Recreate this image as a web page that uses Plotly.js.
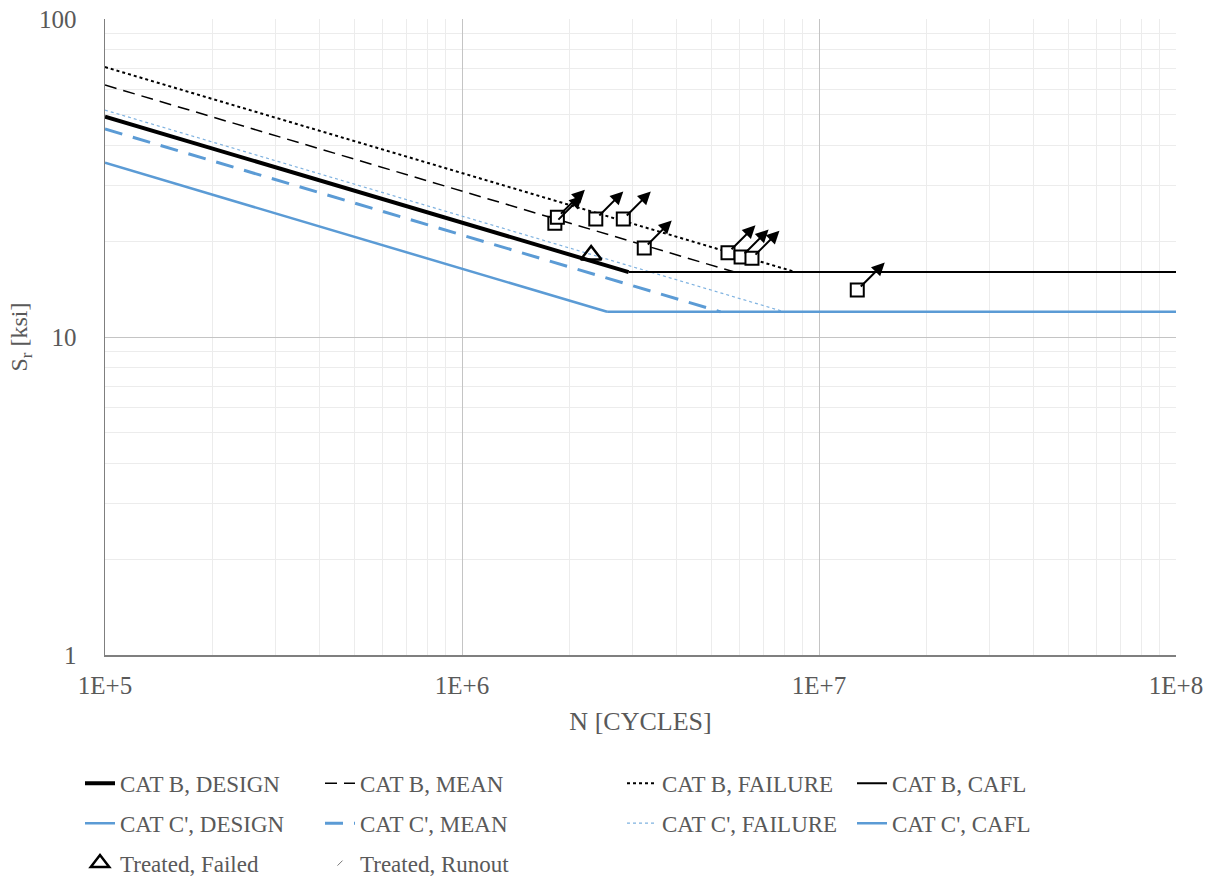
<!DOCTYPE html>
<html>
<head>
<meta charset="utf-8">
<script src="https://cdn.plot.ly/plotly-3.0.1.min.js"></script>
<style>html,body{margin:0;padding:0;background:#fff;}#chart{width:1217px;height:886px;}</style>
</head>
<body>
<div id="chart"></div>
<script>
// S-N curves (N in cycles, S in ksi)
const nDesignB = [1e5, 2.93e6];  const sDesignB = [49.3, 16];
const nMeanB   = [1e5, 5.8e6];   const sMeanB   = [62.0, 16];
const nFailB   = [1e5, 8.6e6];   const sFailB   = [70.6, 16];
const nCaflB   = [2.93e6, 1e8];  const sCaflB   = [16, 16];
const nDesignC = [1e5, 2.55e6];  const sDesignC = [35.3, 12];
const nMeanC   = [1e5, 5.3e6];   const sMeanC   = [45.1, 12];
const nFailC   = [1e5, 8.0e6];   const sFailC   = [51.7, 12];
const nCaflC   = [2.55e6, 1e8];  const sCaflC   = [12, 12];
// Test data
const failedN = [2.30e6];
const failedS = [18.1];
const runoutN = [1.82e6, 1.85e6, 2.37e6, 2.83e6, 3.24e6, 5.56e6, 6.05e6, 6.49e6, 1.28e7];
const runoutS = [22.8, 23.8, 23.5, 23.5, 19.05, 18.4, 17.85, 17.7, 14.05];
// Axis ticks
const xTickVals = [1e5, 1e6, 1e7, 1e8];
const xTickText = ['1E+5', '1E+6', '1E+7', '1E+8'];
const yTickVals = [1, 10, 100];
const yTickText = ['1', '10', '100'];

const BLUE = '#5b9bd5';
const FONT = 'Liberation Serif, Times New Roman, serif';
const GREY = '#595959';

function line(name, x, y, color, width, dash, legend, group) {
  return {x, y, name, type: 'scatter', mode: 'lines',
    line: {color, width, dash}, legend, legendgroup: group};
}

const traces = [
  line('CAT B, DESIGN', nDesignB, sDesignB, '#000', 4, 'solid', 'legend', 'a1'),
  line("CAT C', DESIGN", nDesignC, sDesignC, BLUE, 2.5, 'solid', 'legend', 'a2'),
  line('CAT B, MEAN', nMeanB, sMeanB, '#000', 1.5, '12px,7px', 'legend2', 'b1'),
  line("CAT C', MEAN", nMeanC, sMeanC, BLUE, 3, '18px,11px', 'legend2', 'b2'),
  line('CAT B, FAILURE', nFailB, sFailB, '#000', 2, 'dot', 'legend3', 'c1'),
  line("CAT C', FAILURE", nFailC, sFailC, '#7fb2e0', 1.2, 'dot', 'legend3', 'c2'),
  line('CAT B, CAFL', nCaflB, sCaflB, '#000', 2, 'solid', 'legend4', 'd1'),
  line("CAT C', CAFL", nCaflC, sCaflC, BLUE, 2.5, 'solid', 'legend4', 'd2'),
  {x: failedN, y: failedS, name: 'Treated, Failed', type: 'scatter', mode: 'markers',
   marker: {symbol: 'triangle-up-open', size: 18, color: '#000', line: {width: 2.5, color: '#000'}},
   legend: 'legend', legendgroup: 'a3'},
  {x: runoutN, y: runoutS, name: 'Treated, Runout', type: 'scatter', mode: 'markers',
   marker: {symbol: 'line-ne', size: 5, color: '#777', line: {width: 1, color: '#777'}},
   legend: 'legend2', legendgroup: 'b3'},
  {x: runoutN, y: runoutS, name: 'runout squares', type: 'scatter', mode: 'markers', showlegend: false,
   marker: {symbol: 'square', size: 13, color: '#fff', line: {width: 2, color: '#000'}}}
];

const annotations = runoutN.map((n, i) => ({
  x: Math.log10(n), y: Math.log10(runoutS[i]), xref: 'x', yref: 'y',
  text: '', showarrow: true, ax: 29, ay: -29, axref: 'pixel', ayref: 'pixel',
  arrowside: 'start', startarrowhead: 2, startarrowsize: 1.3, arrowwidth: 2,
  arrowcolor: '#000', standoff: 5
}));

function legendAt(xpx) {
  return {x: (xpx - 105) / 1071, xanchor: 'left', y: -0.168, yanchor: 'top',
    orientation: 'v', traceorder: 'grouped', tracegroupgap: 7,
    font: {family: FONT, size: 23, color: GREY}, bgcolor: 'rgba(0,0,0,0)'};
}

const layout = {
  width: 1217, height: 886,
  margin: {l: 105, r: 41, t: 19, b: 231, autoexpand: false},
  paper_bgcolor: '#fff', plot_bgcolor: '#fff',
  showlegend: true,
  font: {family: FONT, size: 24, color: GREY},
  xaxis: {
    type: 'log', range: [5, 8], automargin: false,
    tickvals: xTickVals, ticktext: xTickText,
    showgrid: true, gridcolor: '#c4c4c4', gridwidth: 1,
    minor: {dtick: 'D1', showgrid: true, gridcolor: '#ececec', gridwidth: 1, ticks: ''},
    showline: true, linecolor: '#7f7f7f', linewidth: 1.5,
    ticks: '', zeroline: false, ticklabelstandoff: 7,
    tickfont: {family: FONT, size: 25, color: GREY},
    title: {text: 'N [CYCLES]', font: {family: FONT, size: 26, color: GREY}, standoff: 14}
  },
  yaxis: {
    type: 'log', range: [0, 2], automargin: false,
    tickvals: yTickVals, ticktext: yTickText,
    showgrid: true, gridcolor: '#c4c4c4', gridwidth: 1,
    minor: {dtick: 'D1', showgrid: true, gridcolor: '#ececec', gridwidth: 1, ticks: ''},
    showline: true, linecolor: '#7f7f7f', linewidth: 1.5,
    ticks: '', zeroline: false, ticklabelstandoff: 22,
    tickfont: {family: FONT, size: 25, color: GREY},
    title: {text: 'S<sub>r</sub> [ksi]', font: {family: FONT, size: 24, color: GREY}, standoff: 4}
  },
  legend: legendAt(80),
  legend2: legendAt(320),
  legend3: legendAt(622),
  legend4: legendAt(852),
  annotations
};

Plotly.newPlot('chart', traces, layout, {displayModeBar: false, staticPlot: true});
</script>
</body>
</html>
